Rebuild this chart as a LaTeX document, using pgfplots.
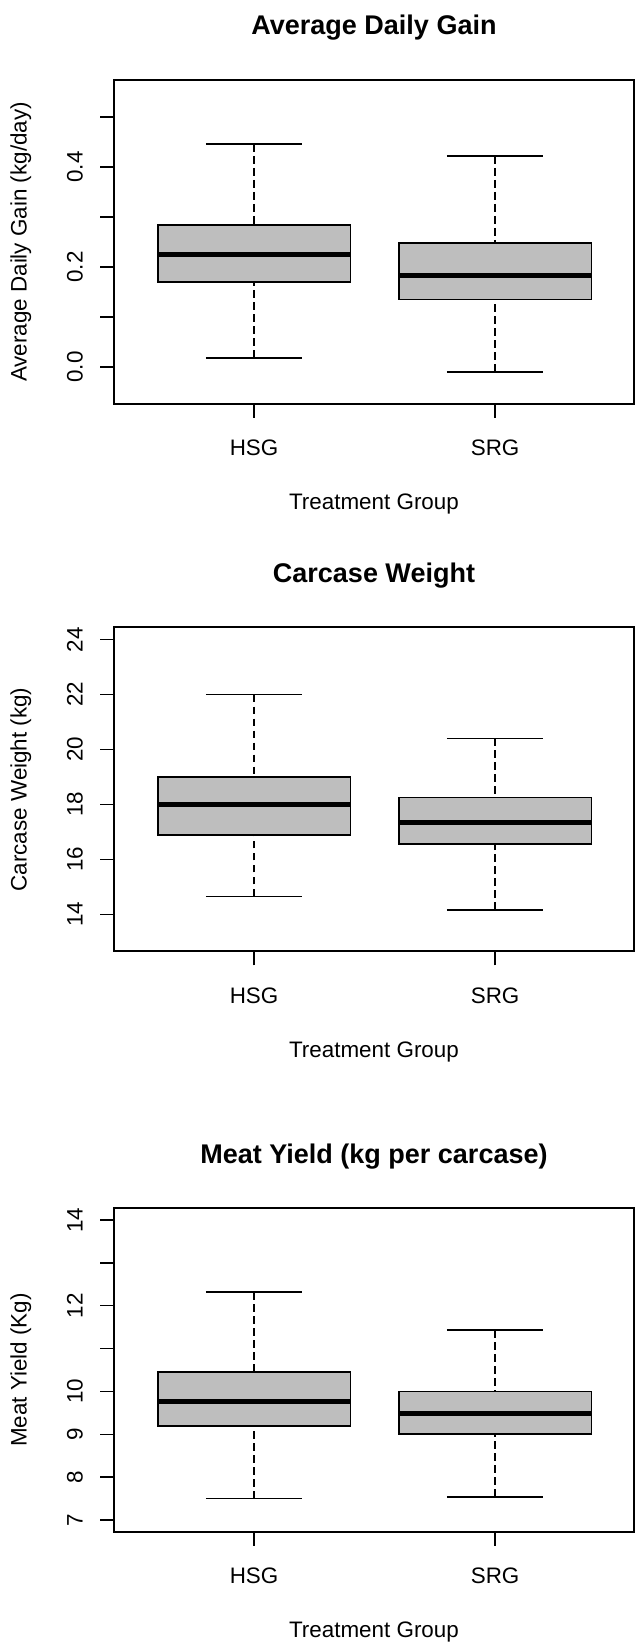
\documentclass[border=0pt]{standalone}
\usepackage{fontspec}
\setmainfont{Liberation Sans}
\usepackage{pgfplots}
\pgfplotsset{compat=1.18}
\definecolor{boxgray}{RGB}{190,190,190}
\pgfplotsset{
  whisk/.style={black,line width=0.85pt,dash pattern=on 3.9pt off 2.1pt},
  capl/.style={black,line width=0.85pt},
  boxs/.style={draw=black,fill=boxgray,line width=0.9pt},
  medl/.style={black,line width=2.5pt},
  rpanel/.style={
    scale only axis, width=259.7pt, height=162pt,
    xmin=0.42, xmax=2.575, enlargelimits=false,
    xtick={1,2}, xticklabels={HSG,SRG},
    tick align=outside, major tick length=7pt,
    xtick pos=left, ytick pos=left,
    tick style={black,line width=0.75pt},
    axis line style={black,line width=1pt},
    tick label style={font=\fontsize{11.2}{13.5}\selectfont, inner sep=0pt},
    xticklabel style={anchor=base},
    yticklabel style={rotate=90, anchor=base},
    xticklabel shift=19pt,
    yticklabel shift=8.8pt,
    label style={font=\fontsize{11.2}{13.5}\selectfont, inner sep=0pt},
    xlabel={Treatment Group},
    xlabel style={at={(axis description cs:0.5,-0.32716)}, anchor=base},
    ylabel style={at={(axis description cs:-0.16904,0.5)}, anchor=base},
    every axis title shift=0pt,
    title style={at={(axis description cs:0.5,1.13889)}, anchor=base, font=\bfseries\fontsize{13.5}{16}\selectfont, inner sep=0pt},
  },
}
\begin{document}
\begin{tikzpicture}
\useasboundingbox (0,0) rectangle (317pt,821pt);
% ---------------- Panel 1: Average Daily Gain ----------------
\begin{axis}[rpanel, at={(57.15pt,619pt)}, anchor=south west,
  ymin=-0.074, ymax=0.574,
  ytick={0,0.1,0.2,0.3,0.4,0.5}, yticklabels={0.0,,0.2,,0.4,},
  title={Average Daily Gain}, ylabel={Average Daily Gain (kg/day)}]
% HSG: whiskers 0.018 / 0.446, quartiles 0.170 / 0.284, median 0.225
\addplot[whisk] coordinates {(1,0.018) (1,0.170)};
\addplot[whisk] coordinates {(1,0.446) (1,0.284)};
\addplot[capl] coordinates {(0.8,0.018) (1.2,0.018)};
\addplot[capl] coordinates {(0.8,0.446) (1.2,0.446)};
\addplot[boxs] coordinates {(0.6,0.170) (1.4,0.170) (1.4,0.284) (0.6,0.284)} -- cycle;
\addplot[medl] coordinates {(0.6,0.225) (1.4,0.225)};
% SRG: whiskers -0.010 / 0.422, quartiles 0.135 / 0.248, median 0.183
\addplot[whisk] coordinates {(2,-0.010) (2,0.135)};
\addplot[whisk] coordinates {(2,0.422) (2,0.248)};
\addplot[capl] coordinates {(1.8,-0.010) (2.2,-0.010)};
\addplot[capl] coordinates {(1.8,0.422) (2.2,0.422)};
\addplot[boxs] coordinates {(1.6,0.135) (2.4,0.135) (2.4,0.248) (1.6,0.248)} -- cycle;
\addplot[medl] coordinates {(1.6,0.183) (2.4,0.183)};
\end{axis}
% ---------------- Panel 2: Carcase Weight ----------------
\begin{axis}[rpanel, at={(57.15pt,345.25pt)}, anchor=south west,
  ymin=12.646, ymax=24.44,
  ytick={14,16,18,20,22,24}, yticklabels={14,16,18,20,22,24},
  title={Carcase Weight}, ylabel={Carcase Weight (kg)}]
% HSG: whiskers 14.65 / 22.0, quartiles 16.9 / 19.0, median 18.0
\addplot[whisk] coordinates {(1,14.65) (1,16.9)};
\addplot[whisk] coordinates {(1,22.0) (1,19.0)};
\addplot[capl] coordinates {(0.8,14.65) (1.2,14.65)};
\addplot[capl] coordinates {(0.8,22.0) (1.2,22.0)};
\addplot[boxs] coordinates {(0.6,16.9) (1.4,16.9) (1.4,19.0) (0.6,19.0)} -- cycle;
\addplot[medl] coordinates {(0.6,18.0) (1.4,18.0)};
% SRG: whiskers 14.15 / 20.4, quartiles 16.55 / 18.25, median 17.35
\addplot[whisk] coordinates {(2,14.15) (2,16.55)};
\addplot[whisk] coordinates {(2,20.4) (2,18.25)};
\addplot[capl] coordinates {(1.8,14.15) (2.2,14.15)};
\addplot[capl] coordinates {(1.8,20.4) (2.2,20.4)};
\addplot[boxs] coordinates {(1.6,16.55) (2.4,16.55) (2.4,18.25) (1.6,18.25)} -- cycle;
\addplot[medl] coordinates {(1.6,17.35) (2.4,17.35)};
\end{axis}
% ---------------- Panel 3: Meat Yield ----------------
\begin{axis}[rpanel, at={(57.15pt,55pt)}, anchor=south west,
  ymin=6.72, ymax=14.28,
  ytick={7,8,9,10,11,12,13,14}, yticklabels={7,8,9,10,,12,,14},
  title={Meat Yield (kg per carcase)}, ylabel={Meat Yield (Kg)}]
% HSG: whiskers 7.50 / 12.32, quartiles 9.20 / 10.45, median 9.77
\addplot[whisk] coordinates {(1,7.50) (1,9.20)};
\addplot[whisk] coordinates {(1,12.32) (1,10.45)};
\addplot[capl] coordinates {(0.8,7.50) (1.2,7.50)};
\addplot[capl] coordinates {(0.8,12.32) (1.2,12.32)};
\addplot[boxs] coordinates {(0.6,9.20) (1.4,9.20) (1.4,10.45) (0.6,10.45)} -- cycle;
\addplot[medl] coordinates {(0.6,9.77) (1.4,9.77)};
% SRG: whiskers 7.54 / 11.43, quartiles 9.00 / 10.00, median 9.49
\addplot[whisk] coordinates {(2,7.54) (2,9.00)};
\addplot[whisk] coordinates {(2,11.43) (2,10.00)};
\addplot[capl] coordinates {(1.8,7.54) (2.2,7.54)};
\addplot[capl] coordinates {(1.8,11.43) (2.2,11.43)};
\addplot[boxs] coordinates {(1.6,9.00) (2.4,9.00) (2.4,10.00) (1.6,10.00)} -- cycle;
\addplot[medl] coordinates {(1.6,9.49) (2.4,9.49)};
\end{axis}
\end{tikzpicture}
\end{document}
